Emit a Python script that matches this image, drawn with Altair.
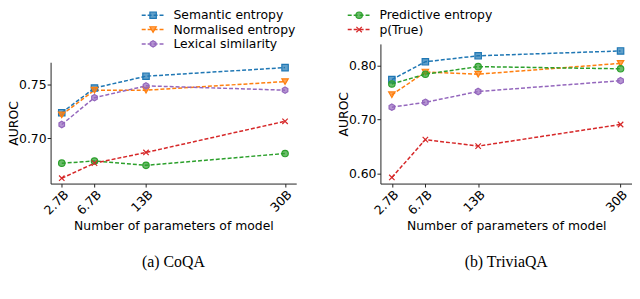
import altair as alt
import pandas as pd

sizes = [2.7, 6.7, 13, 30]
size_labels = ["2.7B", "6.7B", "13B", "30B"]

methods = ["Semantic entropy", "Normalised entropy", "Lexical similarity",
           "Predictive entropy", "p(True)"]
colors = ["#1f77b4", "#ff7f0e", "#9467bd", "#2ca02c", "#d62728"]
HEX = "M0,-1L0.866,-0.5L0.866,0.5L0,1L-0.866,0.5L-0.866,-0.5Z"
XMARK = "M-0.85,-0.85L0.85,0.85M-0.85,0.85L0.85,-0.85"
shapes = ["square", "triangle-down", HEX, "circle", XMARK]

coqa = {
    "Semantic entropy":   [0.724, 0.747, 0.758, 0.766],
    "Normalised entropy": [0.722, 0.745, 0.745, 0.753],
    "Lexical similarity": [0.713, 0.738, 0.749, 0.745],
    "Predictive entropy": [0.677, 0.679, 0.675, 0.686],
    "p(True)":            [0.663, 0.677, 0.687, 0.716],
}
trivia = {
    "Semantic entropy":   [0.774, 0.807, 0.818, 0.827],
    "Normalised entropy": [0.746, 0.788, 0.784, 0.804],
    "Lexical similarity": [0.723, 0.732, 0.752, 0.772],
    "Predictive entropy": [0.766, 0.784, 0.798, 0.794],
    "p(True)":            [0.593, 0.663, 0.651, 0.691],
}

left_legend = ["Semantic entropy", "Normalised entropy", "Lexical similarity"]
right_legend = ["Predictive entropy", "p(True)"]


def long(d):
    rows = []
    for m, vals in d.items():
        for s, v in zip(sizes, vals):
            rows.append({"method": m, "size": s, "auroc": v})
    return pd.DataFrame(rows)


label_expr = " : ".join(
    f"datum.value == {s} ? '{l}'" for s, l in zip(sizes, size_labels)
) + " : ''"

color_scale = alt.Scale(domain=methods, range=colors)
shape_scale = alt.Scale(domain=methods, range=shapes)
xdom = [sizes[0] - 0.05 * (sizes[-1] - sizes[0]), sizes[-1] + 0.05 * (sizes[-1] - sizes[0])]

H = 141


def panel(d, ydom, yvals, ytop, legend_items, leg_x0, w, caption):
    df = long(d)
    x = alt.X("size:Q", scale=alt.Scale(domain=xdom, nice=False, zero=False),
              axis=alt.Axis(values=sizes, labelExpr=label_expr, labelAngle=-45,
                            labelAlign="right", labelBaseline="top", labelPadding=1,
                            title="Number of parameters of model", titlePadding=3))
    y = alt.Y("auroc:Q", scale=alt.Scale(domain=ydom, nice=False, zero=False, range=[H, ytop]),
              axis=alt.Axis(values=yvals, format=".2f", title="AUROC", labelPadding=1,
                            titleX=-37, titleY=(H + ytop) / 2, titleAlign="center",
                            titleBaseline="middle", titleAngle=270))
    base = alt.Chart(df).encode(x=x, y=y)
    lines = base.mark_line(strokeDash=[4, 2], strokeWidth=1.5).encode(
        color=alt.Color("method:N", scale=color_scale, legend=None),
        detail="method:N")
    pts = base.mark_point(filled=True, size=42, fillOpacity=0.7, strokeWidth=1.2).encode(
        color=alt.Color("method:N", scale=color_scale, legend=None),
        stroke=alt.Stroke("method:N", scale=color_scale, legend=None),
        shape=alt.Shape("method:N", scale=shape_scale, legend=None))

    ldf = pd.DataFrame({"method": legend_items, "idx": list(range(len(legend_items)))})
    lbase = alt.Chart(ldf).transform_calculate(
        ly="-29 + 14.5 * datum.idx",
        lx1=f"{leg_x0}", lx2=f"{leg_x0} + 23", lxm=f"{leg_x0} + 11.5", lxt=f"{leg_x0} + 32")
    lrule = lbase.mark_rule(strokeDash=[4, 2], strokeWidth=1.5).encode(
        x=alt.X("lx1:Q", scale=None), x2="lx2:Q", y=alt.Y("ly:Q", scale=None),
        color=alt.Color("method:N", scale=color_scale, legend=None))
    lpt = lbase.mark_point(filled=True, size=42, fillOpacity=0.7, strokeWidth=1.2).encode(
        x=alt.X("lxm:Q", scale=None), y=alt.Y("ly:Q", scale=None),
        color=alt.Color("method:N", scale=color_scale, legend=None),
        stroke=alt.Stroke("method:N", scale=color_scale, legend=None),
        shape=alt.Shape("method:N", scale=shape_scale, legend=None))
    ltxt = lbase.mark_text(align="left", baseline="middle", fontSize=12.5,
                           font="DejaVu Sans", color="black").encode(
        x=alt.X("lxt:Q", scale=None), y=alt.Y("ly:Q", scale=None), text="method:N")

    return alt.layer(lines, pts, lrule, lpt, ltxt).properties(
        width=w, height=H,
        title=alt.TitleParams(caption, orient="bottom", font="Liberation Serif",
                              fontSize=16, fontWeight="normal", offset=22,
                              anchor="middle", color="black"))


left = panel(coqa, [0.658, 0.771], [0.70, 0.75], 18.5, left_legend, 92, 248, "(a) CoQA")
right = panel(trivia, [0.5817, 0.840], [0.60, 0.70, 0.80], 0, right_legend, -33, 254,
              "(b) TriviaQA")

chart = alt.hconcat(left, right, spacing=42).properties(
    padding={"left": 0, "top": 0, "right": 0, "bottom": 0}
).configure(font="DejaVu Sans").configure_view(stroke=None).configure_axis(
    grid=False, domainColor="#222", tickColor="#222", tickSize=3.5,
    labelFont="DejaVu Sans", titleFont="DejaVu Sans", labelFontSize=12.5,
    titleFontSize=12.5, titleFontWeight="normal", labelColor="black", titleColor="black",
    domainWidth=1
)

chart.save("out.html", embed_options={"renderer": "svg", "actions": False})
